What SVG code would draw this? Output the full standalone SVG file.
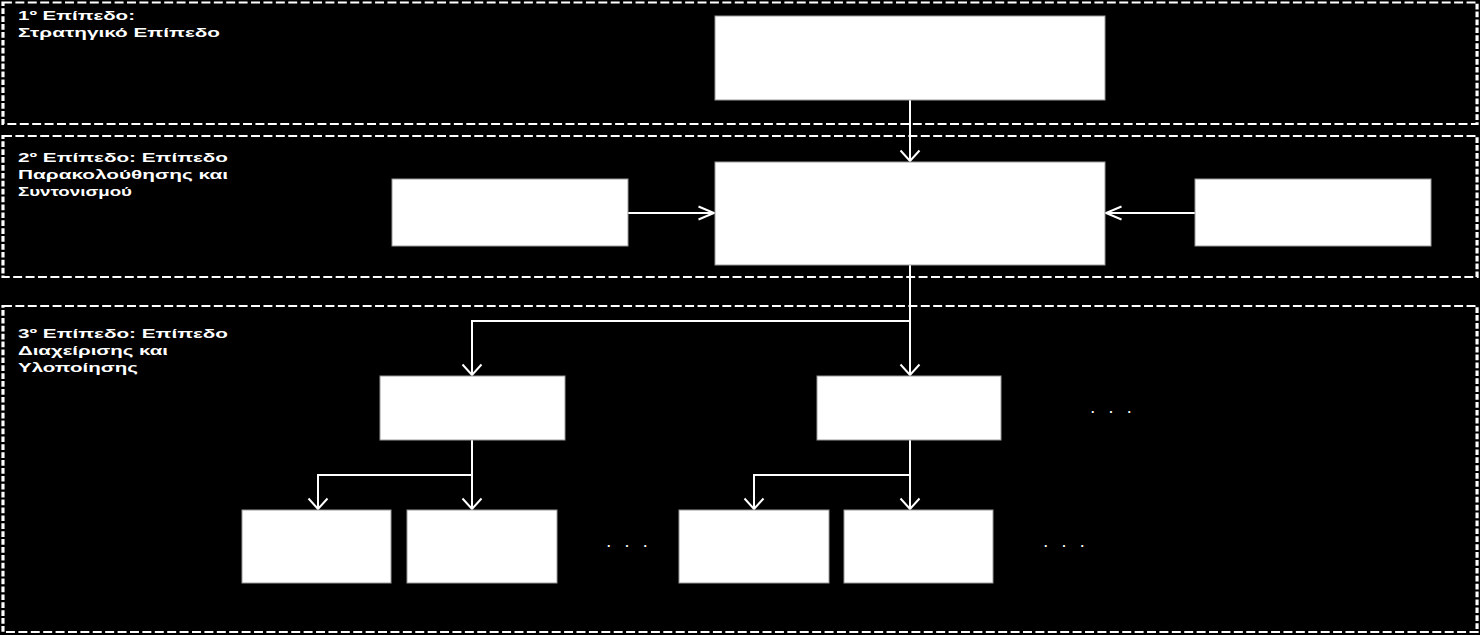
<svg xmlns="http://www.w3.org/2000/svg" width="1480" height="635" viewBox="0 0 1480 635">
  <style>
    .panel { fill: none; stroke: #ffffff; stroke-width: 2; stroke-dasharray: 5.7 2.2; }
    .label { font-family: "Liberation Sans", Arial, sans-serif; font-weight: bold; font-size: 12.5px; fill: #ffffff; }
    .box { fill: #ffffff; stroke: #9a9a9a; stroke-width: 1; }
    .conn { fill: none; stroke: #ffffff; stroke-width: 2; }
    .dots { font-family: "Liberation Sans", Arial, sans-serif; font-weight: bold; font-size: 12.5px; fill: #ffffff; }
  </style>
  <defs>
    <marker id="headV" markerUnits="userSpaceOnUse" viewBox="-1 -1 13 21" markerWidth="13" markerHeight="21" refX="10.5" refY="9.5" orient="auto" overflow="visible">
      <path d="M0,0 L10.5,9.5 L0,19" fill="none" stroke="#ffffff" stroke-width="2"/>
    </marker>
    <marker id="headH" markerUnits="userSpaceOnUse" viewBox="-1 -1 18 15" markerWidth="18" markerHeight="15" refX="15.5" refY="6.5" orient="auto" overflow="visible">
      <path d="M0,0 L15.5,6.5 L0,13" fill="none" stroke="#ffffff" stroke-width="2"/>
    </marker>
  </defs>
  <rect x="0" y="0" width="1480" height="635" fill="#000000"/>

  <g id="panel-1">
    <g transform="scale(1.57,1)">
      <rect class="panel" x="1.9" y="2.5" width="938.9" height="121.5"/>
    </g>
    <text class="label" x="18" y="20" textLength="117" lengthAdjust="spacingAndGlyphs">1º Επίπεδο:</text>
    <text class="label" x="18" y="37" textLength="202" lengthAdjust="spacingAndGlyphs">Στρατηγικό Επίπεδο</text>
  </g>
  <g id="panel-2">
    <g transform="scale(1.57,1)">
      <rect class="panel" x="1.9" y="136" width="938.9" height="141"/>
    </g>
    <text class="label" x="18" y="162" textLength="210" lengthAdjust="spacingAndGlyphs">2º Επίπεδο: Επίπεδο</text>
    <text class="label" x="18" y="179" textLength="210" lengthAdjust="spacingAndGlyphs">Παρακολούθησης και</text>
    <text class="label" x="18" y="196" textLength="114" lengthAdjust="spacingAndGlyphs">Συντονισμού</text>
  </g>
  <g id="panel-3">
    <g transform="scale(1.57,1)">
      <rect class="panel" x="1.9" y="306" width="938.9" height="326"/>
    </g>
    <text class="label" x="18" y="338" textLength="210" lengthAdjust="spacingAndGlyphs">3º Επίπεδο: Επίπεδο</text>
    <text class="label" x="18" y="355" textLength="150" lengthAdjust="spacingAndGlyphs">Διαχείρισης και</text>
    <text class="label" x="18" y="372" textLength="120" lengthAdjust="spacingAndGlyphs">Υλοποίησης</text>
  </g>

  <g id="connectors">
    <path class="conn" d="M910,100 V161" marker-end="url(#headV)"/>
    <path class="conn" d="M628,213 H714" marker-end="url(#headH)"/>
    <path class="conn" d="M1195,213 H1106" marker-end="url(#headH)"/>
    <path class="conn" d="M910,265 V375" marker-end="url(#headV)"/>
    <path class="conn" d="M910,321 H472 V375" marker-end="url(#headV)"/>
    <path class="conn" d="M472,440 V509" marker-end="url(#headV)"/>
    <path class="conn" d="M472,475 H318 V509" marker-end="url(#headV)"/>
    <path class="conn" d="M910,440 V509" marker-end="url(#headV)"/>
    <path class="conn" d="M910,475 H754 V509" marker-end="url(#headV)"/>
  </g>

  <g id="node-strategic"><rect class="box" x="715" y="16" width="390" height="84"/></g>
  <g id="node-coordination"><rect class="box" x="715" y="162" width="390" height="103"/></g>
  <g id="node-left-input"><rect class="box" x="392" y="179" width="236" height="67"/></g>
  <g id="node-right-input"><rect class="box" x="1195" y="179" width="236" height="67"/></g>
  <g id="node-a"><rect class="box" x="380" y="376" width="185" height="64"/></g>
  <g id="node-b"><rect class="box" x="817" y="376" width="184" height="64"/></g>
  <g id="node-a1"><rect class="box" x="242" y="510" width="149" height="73"/></g>
  <g id="node-a2"><rect class="box" x="407" y="510" width="150" height="73"/></g>
  <g id="node-b1"><rect class="box" x="679" y="510" width="150" height="73"/></g>
  <g id="node-b2"><rect class="box" x="844" y="510" width="149" height="73"/></g>

  <g id="ellipses">
    <text class="dots" x="607" y="547" textLength="40" lengthAdjust="spacing">. . .</text>
    <text class="dots" x="1044" y="547" textLength="40" lengthAdjust="spacing">. . .</text>
    <text class="dots" x="1091" y="413" textLength="40" lengthAdjust="spacing">. . .</text>
  </g>
</svg>
